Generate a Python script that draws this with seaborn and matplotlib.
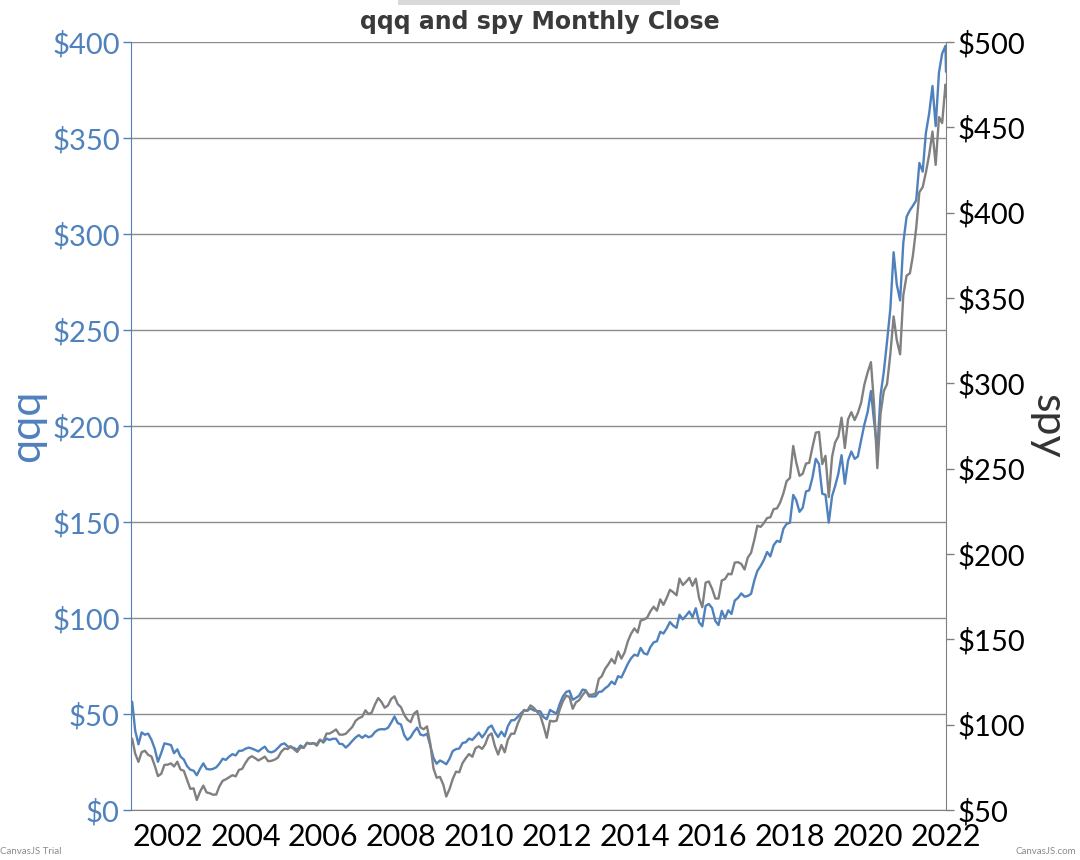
import matplotlib
matplotlib.use("Agg")
import numpy as np
import pandas as pd
import matplotlib.pyplot as plt
import matplotlib.dates as mdates
from matplotlib.ticker import FuncFormatter, MultipleLocator
from matplotlib.patches import Rectangle
import seaborn as sns

# monthly closes, Jan 2001 .. Dec 2021, plus one early-Jan 2022 point
qqq = [56.4, 41.5, 34.2, 40.4, 39.2, 39.8, 36.6, 31.9, 25.1, 29.7, 34.7, 34.3,
       33.8, 29.6, 31.6, 27.8, 26.3, 22.9, 21.0, 20.5, 18.1, 21.5, 24.3, 21.4,
       21.1, 21.4, 22.2, 24.1, 26.7, 26.1, 27.8, 29.1, 28.4, 30.8, 30.9, 31.9,
       32.5, 32.0, 31.3, 30.5, 31.9, 33.0, 30.5, 30.0, 30.7, 32.3, 34.1, 34.7,
       33.1, 32.7, 32.3, 31.3, 33.6, 32.5, 34.9, 34.5, 34.8, 34.2, 36.7, 35.1,
       37.2, 36.5, 37.1, 37.1, 34.5, 34.3, 32.5, 34.1, 36.0, 37.8, 39.0, 37.6,
       38.9, 37.9, 38.5, 40.6, 41.8, 42.1, 42.0, 42.8, 45.5, 48.7, 45.3, 44.5,
       38.9, 36.5, 38.0, 40.8, 42.9, 39.3, 38.8, 39.7, 33.8, 27.1, 24.1, 25.8,
       24.9, 23.8, 26.7, 30.7, 31.7, 32.0, 34.9, 35.3, 37.2, 36.5, 38.4, 40.3,
       37.8, 39.9, 42.9, 44.0, 40.5, 38.0, 40.8, 38.3, 43.7, 46.7, 46.8, 48.5,
       50.4, 51.8, 51.7, 52.9, 51.9, 51.5, 51.4, 48.4, 47.3, 52.1, 51.1, 50.2,
       55.4, 59.2, 61.5, 62.1, 57.4, 58.4, 59.6, 62.7, 62.4, 59.2, 59.1, 59.2,
       61.5, 61.7, 63.4, 64.6, 66.9, 65.5, 69.7, 69.0, 72.6, 76.2, 79.0, 80.9,
       80.3, 84.4, 81.6, 81.0, 84.9, 87.3, 87.9, 92.8, 91.9, 94.6, 97.9, 96.0,
       94.9, 101.7, 99.3, 101.2, 103.4, 100.4, 105.1, 97.7, 95.7, 106.3, 107.3, 105.2,
       98.4, 96.3, 103.7, 99.8, 104.0, 102.1, 109.1, 110.5, 112.8, 111.1, 111.5, 112.6,
       119.6, 124.5, 127.1, 130.2, 134.4, 132.1, 137.9, 140.2, 139.6, 146.5, 149.0, 149.6,
       164.1, 161.4, 155.3, 157.4, 165.9, 166.5, 173.2, 182.9, 180.2, 164.7, 164.2, 149.7,
       163.5, 168.6, 175.2, 184.8, 169.9, 182.0, 186.7, 182.9, 184.1, 192.7, 200.7, 207.3,
       218.2, 202.5, 187.5, 215.9, 228.4, 243.9, 260.9, 290.5, 273.6, 265.4, 295.5, 309.0,
       312.4, 314.7, 317.5, 337.0, 332.5, 352.6, 362.8, 377.1, 356.2, 384.1, 394.0, 398.0,
       384.5]

spy = [91.8, 83.1, 78.2, 83.9, 84.7, 82.3, 81.4, 76.0, 69.9, 71.2, 76.4, 76.6,
       77.3, 75.5, 78.3, 73.7, 73.0, 67.7, 62.4, 62.7, 55.9, 60.8, 64.3, 60.3,
       59.8, 59.0, 59.0, 63.8, 67.1, 68.0, 69.2, 70.4, 69.7, 73.5, 74.1, 77.6,
       80.4, 81.5, 80.4, 79.0, 80.1, 81.3, 78.6, 78.8, 79.5, 80.7, 84.0, 86.0,
       85.7, 87.4, 85.6, 84.0, 86.6, 86.4, 89.4, 88.7, 89.2, 87.7, 90.8, 90.3,
       94.8, 94.8, 95.9, 97.2, 94.2, 94.1, 94.7, 96.7, 98.7, 102.3, 103.8, 104.6,
       108.4, 106.2, 107.1, 111.8, 115.6, 113.4, 109.9, 111.3, 115.1, 116.6, 112.1, 110.2,
       105.7, 102.9, 101.5, 106.4, 108.0, 98.4, 97.3, 99.0, 89.2, 74.4, 68.9, 69.4,
       64.9, 57.9, 62.3, 68.2, 72.5, 72.1, 77.5, 80.4, 82.8, 81.2, 86.2, 87.3,
       85.8, 88.4, 93.5, 94.9, 87.4, 82.5, 88.1, 83.8, 91.2, 94.7, 94.7, 100.5,
       104.9, 108.6, 108.1, 111.3, 109.9, 107.6, 105.4, 99.2, 92.3, 102.3, 101.9, 102.3,
       109.1, 113.8, 117.0, 116.3, 109.3, 113.1, 114.4, 117.3, 119.7, 117.5, 117.6, 118.3,
       126.8, 128.4, 132.7, 135.3, 138.5, 135.9, 142.9, 138.7, 142.3, 148.9, 153.3, 156.4,
       154.0, 161.0, 161.6, 162.7, 166.5, 169.1, 166.8, 173.4, 170.2, 174.3, 179.0, 177.6,
       175.8, 185.6, 181.8, 183.7, 186.0, 181.4, 185.5, 174.2, 168.8, 183.2, 183.9, 179.6,
       173.9, 173.9, 184.5, 185.3, 188.4, 188.1, 195.0, 195.2, 194.2, 190.9, 197.9, 200.7,
       208.4, 216.6, 215.9, 218.1, 221.1, 221.5, 226.3, 226.7, 230.1, 235.6, 242.7, 244.5,
       263.3, 253.8, 245.8, 247.0, 253.0, 253.4, 262.7, 271.1, 271.5, 252.7, 257.5, 233.4,
       257.0, 265.3, 268.9, 279.9, 262.1, 278.9, 283.1, 278.5, 282.6, 288.7, 299.2, 306.4,
       312.4, 287.7, 250.3, 282.1, 295.5, 299.5, 317.0, 339.2, 325.2, 317.0, 351.6, 363.1,
       364.5, 374.8, 391.0, 412.0, 415.0, 423.5, 434.0, 447.5, 428.0, 456.0, 452.5, 475.0,
       468.0]

dates = list(pd.date_range("2001-01-31", "2021-12-31", freq="ME")) + [pd.Timestamp("2022-01-05")]
df = pd.DataFrame({"date": dates, "qqq": qqq, "spy": spy})

blue = "#4f81bd"
grey = "#808080"
gridc = "#8c8c8c"

sns.set_style("white")
plt.rcParams["font.family"] = ["Lato", "DejaVu Sans"]

fig = plt.figure(figsize=(10.8, 8.6), dpi=100)
ax = fig.add_axes([131/1080, 50/860, 815/1080, 768/860])
ax2 = ax.twinx()

sns.lineplot(data=df, x="date", y="qqq", ax=ax, color=blue, lw=1.7)
sns.lineplot(data=df, x="date", y="spy", ax=ax2, color=grey, lw=1.7)

ax.set_ylim(0, 400)
ax2.set_ylim(50, 500)
ax.set_xlim(pd.Timestamp("2001-01-20"), pd.Timestamp("2022-01-05"))
ax.yaxis.set_major_locator(MultipleLocator(50))
ax2.yaxis.set_major_locator(MultipleLocator(50))
money = FuncFormatter(lambda v, p: f"${v:.0f}")
ax.yaxis.set_major_formatter(money)
ax2.yaxis.set_major_formatter(money)
ax.xaxis.set_major_locator(mdates.YearLocator(2))
ax.xaxis.set_major_formatter(mdates.DateFormatter("%Y"))

ax.grid(axis="y", color=gridc, lw=1)
ax.grid(axis="x", visible=False)
ax2.grid(False)

for s in ["top", "right"]:
    ax.spines[s].set_visible(False)
for s in ["top", "left", "bottom"]:
    ax2.spines[s].set_visible(False)
ax.spines["left"].set_color(blue)
ax.spines["bottom"].set_color(grey)
ax2.spines["right"].set_color(grey)

ax.tick_params(axis="x", length=6, width=1, color=grey, labelsize=22, labelcolor="black", pad=3)
ax.tick_params(axis="y", length=6, width=1, color=blue, labelsize=21, labelcolor=blue, pad=2, left=True)
ax2.tick_params(axis="y", length=6, width=1, color=grey, labelsize=21, labelcolor="black", pad=2, right=True)

ax.set_xlabel("")
ax.set_ylabel("qqq", color=blue, fontsize=31, labelpad=4)
ax2.set_ylabel("spy", color="#333333", fontsize=31, rotation=270, labelpad=30)

fig.text(0.5, 1 - 22/860, "qqq and spy Monthly Close", ha="center", va="center",
         fontsize=17, fontweight="bold", color="#3a3a3a", family="DejaVu Sans")
fig.add_artist(Rectangle((398/1080, 1 - 5/860), 282/1080, 5/860,
                         transform=fig.transFigure, color="#d9d9d9", lw=0))
fig.text(0.0, 4/860, "CanvasJS Trial", fontsize=7, color="#8a8a8a", ha="left", va="bottom")
fig.text(1 - 4/1080, 4/860, "CanvasJS.com", fontsize=7, color="#8a8a8a", ha="right", va="bottom")

fig.savefig("out.png", dpi=100)
